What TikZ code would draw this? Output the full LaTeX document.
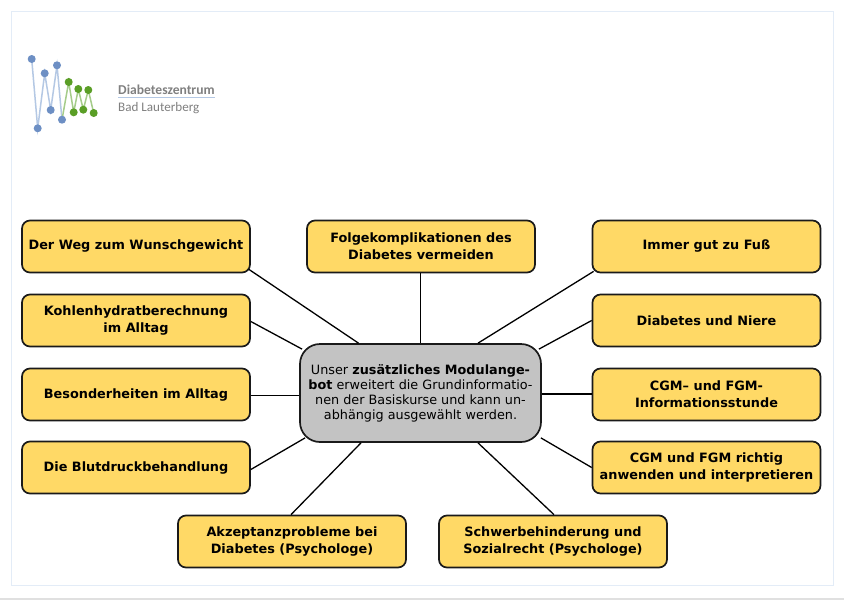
\documentclass[tikz,border=0pt]{standalone}
\usepackage{fontspec}
\setmainfont{DejaVu Sans}
\newfontfamily\logofont{Carlito}
\definecolor{boxfill}{HTML}{FFD966}
\definecolor{hubfill}{HTML}{C3C3C3}
\definecolor{edgedark}{HTML}{1A1A1A}
\definecolor{framecol}{HTML}{E3ECF7}
\definecolor{logoblue}{HTML}{6D8FC4}
\definecolor{logolineblue}{HTML}{B4C8E4}
\definecolor{logogreen}{HTML}{5A9E26}
\definecolor{logolinegreen}{HTML}{A5CC8A}
\definecolor{logotext}{HTML}{808080}
\tikzset{
  topicbox/.style={draw=edgedark,fill=boxfill,line width=1.7pt,rounded corners=8pt,
    minimum width=228pt,minimum height=52pt,inner sep=0pt,align=center,
    font=\fontsize{12.85}{17}\selectfont\bfseries},
  hubbox/.style={draw=edgedark,fill=hubfill,line width=1.7pt,rounded corners=20pt,
    minimum width=241pt,minimum height=98pt,inner sep=0pt,align=center,
    font=\fontsize{12.8}{15}\selectfont},
  spoke/.style={draw=black,line width=1.3pt},
  bluedot/.style={circle,fill=logoblue,inner sep=0pt,minimum size=8pt},
  greendot/.style={circle,fill=logogreen,inner sep=0pt,minimum size=8pt},
}
\usetikzlibrary{calc}
\begin{document}
\begin{tikzpicture}[x=1pt,y=-1pt]
\useasboundingbox (0,0) rectangle (844,600);
\fill[white] (0,0) rectangle (844,600);
\draw[framecol,line width=1pt] (11.5,11.5) rectangle (833,585);
\fill[black!12] (0,598) rectangle (844,600);
% logo
\draw[logolineblue,line width=1.5pt] (31.7,59)--(37.7,128.3)--(44.7,73.3)--(50.7,110)--(57,65.3)--(62,119.7);
\draw[logolinegreen,line width=1.5pt] (62,119.7)--(68.7,82)--(73.7,112.3)--(78.3,89)--(83.3,109.7)--(88.3,90)--(93.7,113);
\node[bluedot] (b1) at (31.7,59) {};
\node[bluedot] (b2) at (44.7,73.3) {};
\node[bluedot] (b3) at (57,65.3) {};
\node[bluedot] (b4) at (37.7,128.3) {};
\node[bluedot] (b5) at (50.7,110) {};
\node[bluedot] (b6) at (62,119.7) {};
\node[greendot] (g1) at (68.7,82) {};
\node[greendot] (g2) at (78.3,89) {};
\node[greendot] (g3) at (88.3,90) {};
\node[greendot] (g4) at (73.7,112.3) {};
\node[greendot] (g5) at (83.3,109.7) {};
\node[greendot] (g6) at (93.7,113) {};
\node[anchor=base west,inner sep=0pt,text=logotext,font=\logofont\fontsize{13.6}{14}\selectfont\bfseries] (lt1) at (118,94) {Diabeteszentrum};
\node[anchor=base west,inner sep=0pt,text=logotext,font=\logofont\fontsize{13.1}{14}\selectfont] (lt2) at (118,111) {Bad Lauterberg};
\draw[logolineblue,line width=1pt] (118,97.5) -- (215,97.5);
% hub and topics
\node[hubbox] (hub) at (420.5,393) {\raisebox{-0.8pt}{Unser \textbf{zusätzliches Modulange-}}\\\raisebox{-0.8pt}{\textbf{bot} erweitert die Grundinformatio-}\\\raisebox{-0.8pt}{nen der Basiskurse und kann un-}\\\raisebox{-0.8pt}{abhängig ausgewählt werden.}};
\node[topicbox] (wunsch) at (136,246.5) {Der Weg zum Wunschgewicht};
\node[topicbox] (kohlen) at (136,320.5) {Kohlenhydratberechnung\\im Alltag};
\node[topicbox] (besonder) at (136,394.5) {Besonderheiten im Alltag};
\node[topicbox] (blut) at (136,467.5) {Die Blutdruckbehandlung};
\node[topicbox] (akzept) at (292,541.5) {Akzeptanzprobleme bei\\Diabetes (Psychologe)};
\node[topicbox] (schwer) at (553,541.5) {Schwerbehinderung und\\Sozialrecht (Psychologe)};
\node[topicbox] (folge) at (421,246.5) {Folgekomplikationen des\\Diabetes vermeiden};
\node[topicbox] (fuss) at (706.5,246.5) {Immer gut zu Fuß};
\node[topicbox] (niere) at (706.5,320.5) {Diabetes und Niere};
\node[topicbox] (cgmi) at (706.5,394.5) {CGM– und FGM-\\Informationsstunde};
\node[topicbox] (cgmr) at (706.5,467.5) {CGM und FGM richtig\\anwenden und interpretieren};
% connectors
\draw[spoke] ($(wunsch.south east)+(-2,-4)$) -- ($(hub.north)+(-62,0)$);
\draw[spoke] ($(kohlen.east)+(0,1)$) -- ($(hub.north west)+(3,6)$);
\draw[spoke] ($(besonder.east)+(0,1)$) -- ($(hub.west)+(0,2.5)$);
\draw[spoke] ($(blut.east)+(0,2)$) -- ($(hub.south west)+(6,-5)$);
\draw[spoke] ($(akzept.north)+(-1,0)$) -- ($(hub.south)+(-59.5,0)$);
\draw[spoke] ($(schwer.north)+(1,0)$) -- ($(hub.south)+(57.5,0)$);
\draw[spoke] ($(folge.south)+(-0.5,0)$) -- (hub.north);
\draw[spoke] ($(fuss.south west)+(2,-2)$) -- ($(hub.north)+(57.5,0)$);
\draw[spoke] (niere.west) -- ($(hub.north east)+(-3,6)$);
\draw[spoke] ($(cgmi.west)+(0,-0.5)$) -- ($(hub.east)+(0,1)$);
\draw[spoke] (cgmr.west) -- ($(hub.south east)+(-1,-5)$);
\end{tikzpicture}
\end{document}
